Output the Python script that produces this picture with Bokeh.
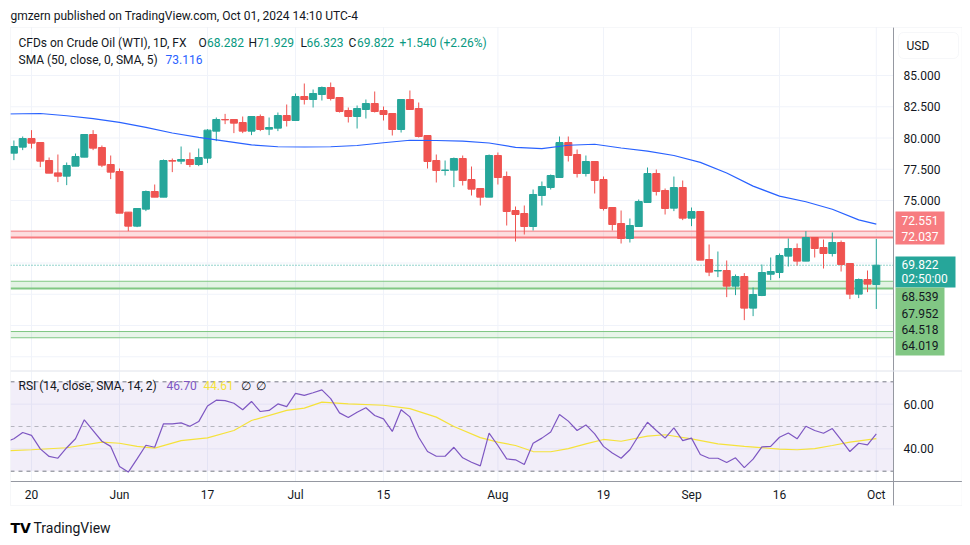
import pandas as pd
from bokeh.plotting import figure
from bokeh.models import ColumnDataSource, BoxAnnotation, Label, Range1d
from bokeh.embed import file_html
from bokeh.resources import INLINE

# ---------------- data ----------------
first_day = "2024-05-16"
last_day = "2024-10-01"

opens = [78.79, 79.27, 79.96, 79.64, 78.20, 77.21, 76.95, 77.75, 78.47, 80.28,
         79.24, 77.88, 77.32, 74.07, 72.95, 74.31, 75.72, 75.27, 78.20, 78.15,
         78.28, 77.88, 78.39, 80.55, 81.48, 81.48, 81.24, 80.55, 81.72, 80.71,
         80.79, 81.80, 81.40, 83.32, 83.08, 83.48, 84.04, 83.24, 82.20, 81.72,
         82.28, 82.76, 82.20, 81.96, 80.68, 83.08, 82.36, 80.20, 78.20, 77.40,
         77.43, 78.36, 76.68, 75.96, 75.27, 78.60, 76.92, 74.20, 73.96, 72.92,
         75.40, 76.04, 76.84, 79.64, 78.68, 77.16, 78.12, 76.68, 74.44, 73.16,
         71.96, 72.92, 74.84, 77.16, 75.80, 74.39, 76.04, 73.59, 74.12, 70.28,
         69.36, 69.40, 68.15, 68.92, 66.39, 67.40, 69.10, 69.24, 70.55, 71.16,
         70.15, 72.04, 71.24, 70.76, 71.64, 69.96, 67.51, 68.68, 68.282]
highs = [79.80, 80.12, 80.63, 79.64, 78.44, 78.68, 78.04, 78.76, 80.28, 80.63,
         79.40, 78.60, 77.56, 74.07, 74.36, 75.80, 76.28, 78.28, 78.36, 79.32,
         78.84, 79.16, 80.71, 81.64, 81.93, 81.48, 81.72, 81.72, 81.88, 81.64,
         82.04, 82.68, 83.56, 84.36, 83.88, 84.12, 84.44, 83.24, 82.44, 82.60,
         83.08, 83.72, 82.52, 81.96, 83.08, 83.80, 82.84, 80.20, 78.68, 78.20,
         78.44, 78.60, 77.72, 75.96, 78.68, 78.84, 77.32, 74.52, 74.60, 75.88,
         76.52, 77.08, 80.12, 80.12, 79.08, 78.60, 78.12, 76.92, 74.44, 74.20,
         73.56, 75.08, 77.64, 77.48, 75.96, 76.92, 76.60, 74.44, 74.12, 71.48,
         70.92, 70.20, 69.08, 69.19, 68.04, 69.88, 70.44, 70.76, 71.96, 71.56,
         72.55, 72.04, 71.88, 72.44, 71.80, 69.96, 68.76, 69.40, 71.929]
lows = [78.23, 79.03, 79.16, 77.67, 77.19, 76.47, 76.23, 77.75, 78.47, 79.03,
        77.67, 76.71, 73.99, 72.55, 72.87, 74.15, 75.27, 75.27, 77.27, 77.91,
        77.67, 77.75, 77.99, 79.75, 81.11, 80.39, 80.39, 80.23, 80.55, 80.23,
        80.55, 80.92, 81.40, 82.68, 82.44, 83.00, 83.00, 82.04, 81.24, 80.76,
        81.56, 82.04, 81.40, 80.20, 80.44, 82.28, 80.04, 77.56, 76.44, 77.00,
        76.07, 76.20, 75.40, 74.60, 75.27, 76.28, 73.00, 71.72, 72.28, 72.60,
        74.60, 75.88, 76.84, 78.12, 76.84, 76.92, 75.56, 74.20, 72.60, 71.56,
        71.64, 72.92, 74.84, 75.40, 73.88, 74.15, 73.43, 72.95, 70.23, 68.95,
        68.87, 67.27, 67.43, 65.43, 65.75, 67.35, 68.63, 68.79, 69.72, 69.80,
        70.15, 70.44, 69.56, 70.52, 69.32, 67.11, 67.19, 67.67, 66.323]
closes = [79.32, 79.96, 79.59, 78.15, 77.19, 76.95, 77.80, 78.52, 80.28, 79.19,
          77.83, 77.27, 73.99, 72.95, 74.36, 75.72, 75.27, 78.20, 78.15, 78.28,
          77.88, 78.44, 80.63, 81.48, 81.45, 81.19, 80.55, 81.72, 80.68, 80.84,
          81.80, 81.40, 83.32, 83.08, 83.56, 84.04, 83.16, 82.12, 81.72, 82.36,
          82.76, 82.12, 81.88, 80.68, 83.08, 82.28, 80.12, 78.12, 77.40, 77.44,
          78.36, 76.60, 75.91, 75.27, 78.60, 76.84, 74.12, 73.88, 72.92, 75.48,
          76.12, 77.00, 79.64, 78.60, 77.16, 78.12, 76.60, 74.36, 73.08, 71.96,
          73.00, 74.92, 77.16, 75.72, 74.36, 76.04, 73.59, 74.12, 70.23, 69.27,
          69.40, 68.15, 68.92, 66.39, 67.48, 69.24, 69.32, 70.60, 71.16, 70.15,
          72.04, 71.16, 70.76, 71.64, 69.88, 67.51, 68.68, 68.31, 69.822]

# indicator lines start one session earlier (partly visible at the left edge)
indicator_start = "2024-05-15"
rsi_values = [43.0,
              44.5, 47.3, 46.0, 40.0, 36.6, 35.8, 40.5, 44.5, 53.0, 48.2,
              43.4, 41.1, 32.1, 29.6, 35.5, 41.6, 40.7, 51.2, 51.2, 51.6,
              50.1, 52.2, 59.2, 61.8, 61.6, 60.4, 57.5, 61.2, 56.7, 57.2,
              60.1, 58.9, 64.8, 63.9, 65.1, 66.4, 62.5, 56.1, 54.0, 56.4,
              58.4, 54.9, 53.4, 47.8, 57.5, 54.3, 45.2, 38.8, 36.7, 36.7,
              40.7, 36.0, 34.0, 32.4, 47.0, 41.5, 35.5, 35.1, 33.0, 42.5,
              44.8, 47.5, 55.4, 52.4, 48.2, 50.7, 46.7, 41.1, 38.1, 35.8,
              39.6, 46.0, 51.9, 48.2, 44.8, 49.4, 43.7, 44.8, 37.5, 35.8,
              35.8, 33.9, 36.0, 31.6, 35.4, 40.9, 41.1, 45.2, 47.1, 44.5,
              50.1, 48.2, 47.0, 49.1, 44.0, 38.8, 42.5, 41.8, 46.70]

rsi_ma_dates = ["2024-05-15", "2024-05-20", "2024-05-24", "2024-05-30", "2024-06-03",
                "2024-06-05", "2024-06-07", "2024-06-12", "2024-06-17", "2024-06-20",
                "2024-06-24", "2024-06-28", "2024-07-02", "2024-07-04", "2024-07-09",
                "2024-07-15", "2024-07-18", "2024-07-23", "2024-07-25", "2024-07-30",
                "2024-08-01", "2024-08-05", "2024-08-07", "2024-08-09", "2024-08-13",
                "2024-08-15", "2024-08-19", "2024-08-21", "2024-08-26", "2024-08-28",
                "2024-09-02", "2024-09-05", "2024-09-10", "2024-09-16", "2024-09-18",
                "2024-09-20", "2024-09-24", "2024-09-26", "2024-10-01"]
rsi_ma_values = [39.1, 39.6, 40.5, 43.0, 42.5, 41.1, 40.3, 43.7, 44.9, 48.2,
                 52.7, 57.2, 58.2, 60.9, 60.1, 59.5, 58.0, 54.2, 50.0, 45.0,
                 43.0, 41.5, 38.8, 38.7, 40.1, 42.2, 44.2, 43.4, 45.7, 46.3,
                 44.5, 42.2, 41.1, 39.9, 39.6, 40.1, 41.5, 43.0, 44.61]

sma50_dates = ["2024-05-15", "2024-05-21", "2024-05-24", "2024-05-29", "2024-06-03",
               "2024-06-06", "2024-06-11", "2024-06-14", "2024-06-19", "2024-06-24",
               "2024-06-27", "2024-07-02", "2024-07-05", "2024-07-10", "2024-07-15",
               "2024-07-18", "2024-07-23", "2024-07-26", "2024-07-31", "2024-08-05",
               "2024-08-08", "2024-08-13", "2024-08-16", "2024-08-21", "2024-08-26",
               "2024-08-29", "2024-09-03", "2024-09-06", "2024-09-11", "2024-09-16",
               "2024-09-19", "2024-09-24", "2024-09-27", "2024-10-01"]
sma50_values = [81.92, 81.96, 81.78, 81.55, 81.25, 80.85, 80.40, 80.05, 79.75, 79.45,
                79.30, 79.28, 79.30, 79.40, 79.62, 79.82, 79.80, 79.75, 79.60, 79.25,
                79.15, 79.42, 79.50, 79.20, 78.95, 78.60, 78.05, 77.20, 76.15, 75.35,
                74.90, 74.30, 73.45, 73.116]

resistance_zone = (72.037, 72.551)
support_zone = (67.952, 68.539)
support_zone2 = (64.019, 64.518)
last_price = 69.822

time_tick_dates = ["2024-05-20", "2024-06-03", "2024-06-17", "2024-07-01", "2024-07-15",
                   "2024-08-01", "2024-08-19", "2024-09-02", "2024-09-16", "2024-10-01"]
time_tick_labels = ["20", "Jun", "17", "Jul", "15", "Aug", "19", "Sep", "16", "Oct"]
price_ticks = [75.0, 77.5, 80.0, 82.5, 85.0]
price_grid = [62.5, 65.0, 67.5, 70.0, 72.5, 75.0, 77.5, 80.0, 82.5, 85.0]
rsi_ticks = [40, 60]
rsi_levels = [70, 50, 30]

# ---------------- style ----------------
FONT = "Roboto"
UP, DOWN = "#26a69a", "#ef5350"
GRID = "#f0f3fa"
AXIS = "#9598a1"
TXT = "#131722"
RED_Z, GREEN_Z = "#f77c80", "#81c784"
RSI_C, RSI_MA_C = "#7e57c2", "#f5e23b"

# session positions (weekday sessions, no gaps)
sessions = pd.bdate_range(indicator_start, last_day)
pos = {d.strftime("%Y-%m-%d"): i - 1 for i, d in enumerate(sessions)}
candle_days = [d.strftime("%Y-%m-%d") for d in pd.bdate_range(first_day, last_day)]
cx = [pos[d] for d in candle_days]
tick_x = [pos[d] for d in time_tick_dates]

# canvas geometry: page pixel -> data (session index, price, RSI)
W, H = 962, 537
def sx(px): return (px - 13.4) / 8.8
def sy(py): return 85.0 - (py - 75.0) / 12.5
def ry(py): return 70.0 - (py - 381.3) / 2.235

XL, XR = sx(10), sx(893)          # left edge of panes, price-scale line

p = figure(width=W, height=H, x_range=Range1d(sx(0), sx(W)), y_range=Range1d(sy(H), sy(0)),
           output_backend="svg", toolbar_location=None, tools="",
           x_axis_location=None, y_axis_location=None, title_location=None,
           min_border=0, outline_line_color=None)
p.extra_y_ranges = {"rsi": Range1d(ry(H), ry(0))}
p.grid.visible = False

def lab(px, py, text, color, size="12px", style="normal", align="left", rng="default",
        y=None, font=FONT):
    yy = y if y is not None else (sy(py) if rng == "default" else ry(py))
    p.add_layout(Label(x=sx(px), y=yy, text=text, text_color=color,
                       text_font=font, text_font_size=size, text_font_style=style,
                       text_align=align, text_baseline="middle", y_range_name=rng))

# ---- grid lines ----
p.segment(x0=tick_x, x1=tick_x, y0=sy(370), y1=sy(27), line_color=GRID, level="underlay")
p.segment(x0=tick_x, x1=tick_x, y0=ry(481), y1=ry(371), line_color=GRID,
          y_range_name="rsi", level="underlay")
p.segment(x0=XL, x1=XR, y0=price_grid, y1=price_grid, line_color=GRID, level="underlay")
p.segment(x0=XL, x1=XR, y0=rsi_ticks, y1=rsi_ticks, line_color=GRID,
          y_range_name="rsi", level="underlay")

# ---- zones ----
for (lo, hi), col, fa, wtop, wbot in [(resistance_zone, RED_Z, 0.25, 1, 2),
                                       (support_zone, GREEN_Z, 0.22, 1, 2),
                                       (support_zone2, GREEN_Z, 0.18, 1, 1)]:
    p.add_layout(BoxAnnotation(left=XL, right=XR, bottom=lo, top=hi, fill_color=col,
                               fill_alpha=fa, line_color=None, level="underlay"))
    p.segment(x0=XL, x1=XR, y0=hi, y1=hi, line_color=col, line_width=wtop, level="underlay")
    p.segment(x0=XL, x1=XR, y0=lo, y1=lo, line_color=col, line_width=wbot, level="underlay")
p.segment(x0=XL, x1=XR, y0=last_price, y1=last_price, line_color=UP, line_width=1,
          line_dash="1 2", level="underlay")

# ---- candles ----
src = ColumnDataSource(dict(
    x=cx, o=opens, h=highs, l=lows, c=closes,
    top=[max(a, b) for a, b in zip(opens, closes)],
    bot=[min(a, b) for a, b in zip(opens, closes)],
    col=[UP if c >= o else DOWN for o, c in zip(opens, closes)]))
p.segment(x0="x", y0="l", x1="x", y1="h", line_color="col", line_width=1, source=src)
p.vbar(x="x", width=0.8, top="top", bottom="bot", fill_color="col",
       line_color="col", line_width=1, source=src)
p.line([pos[d] for d in sma50_dates], sma50_values, line_color="#2962ff", line_width=1.2)

# ---- RSI pane ----
p.add_layout(BoxAnnotation(left=XL, right=XR, bottom=30, top=70, fill_color=RSI_C,
                           fill_alpha=0.1, line_color=None, level="underlay",
                           y_range_name="rsi"))
for lvl, alpha in zip(rsi_levels, [1.0, 0.5, 1.0]):
    p.segment(x0=XL, x1=XR, y0=lvl, y1=lvl, line_color="#787b86", line_alpha=alpha,
              line_dash="4 4", line_width=1, y_range_name="rsi")
rsi_x = [pos[d.strftime("%Y-%m-%d")] for d in sessions]
p.line([pos[d] for d in rsi_ma_dates], rsi_ma_values, line_color=RSI_MA_C,
       line_width=1.2, y_range_name="rsi")
p.line(rsi_x, rsi_values, line_color=RSI_C, line_width=1.2, y_range_name="rsi")

# mask left of the panes (indicator lines start one session early)
p.add_layout(BoxAnnotation(left=sx(-20), right=XL, bottom=sy(H + 20), top=sy(-20),
                           fill_color="white", fill_alpha=1, line_color=None))

# ---- scales, separators and chart border ----
p.segment(x0=XR, x1=XR, y0=sy(505), y1=sy(27), line_color=AXIS, line_width=1)
p.segment(x0=XL, x1=sx(962), y0=sy(481), y1=sy(481), line_color=AXIS, line_width=1)
p.segment(x0=XL, x1=sx(962), y0=sy(370.5), y1=sy(370.5), line_color="#e0e3eb", line_width=1)
p.add_layout(BoxAnnotation(left=XL, right=sx(961.5), top=sy(27), bottom=sy(505),
                           fill_color=None, line_color="#e0e3eb", line_width=1))

for t in price_ticks:
    lab(903, None, "%.3f" % t, TXT, y=t)
for t in rsi_ticks:
    lab(903, None, "%.2f" % t, TXT, rng="rsi", y=t)
for t, s in zip(tick_x, time_tick_labels):
    p.add_layout(Label(x=t, y=sy(494), text=s, text_color=TXT, text_font=FONT,
                       text_font_size="12px", text_align="center", text_baseline="middle"))

# currency box and price labels on the scale
p.add_layout(BoxAnnotation(left=sx(898), right=sx(958), top=sy(32), bottom=sy(58),
                           fill_color="white", fill_alpha=1, line_color="#e0e3eb",
                           line_width=1, border_radius=5))
lab(906, 45, "USD", TXT)
for top_px, bot_px, right_px, col in [(211, 244, 944, RED_Z), (256, 287, 955, UP),
                                      (287, 355, 944, GREEN_Z)]:
    p.add_layout(BoxAnnotation(left=sx(895), right=sx(right_px), top=sy(top_px),
                               bottom=sy(bot_px), fill_color=col, fill_alpha=1,
                               line_color=None))
for py, text, col in [(220, "72.551", "white"), (236, "72.037", "white"),
                      (263.5, "69.822", "white"), (278.5, "02:50:00", "white"),
                      (295.7, "68.539", TXT), (312.5, "67.952", TXT),
                      (329.2, "64.518", TXT), (345, "64.019", TXT)]:
    lab(901, py, text, col)

# ---- legends, header, footer ----
lab(10, 15, "gmzern published on TradingView.com, Oct 01, 2024 14:10 UTC-4", TXT, "12px")
lab(18, 42, "CFDs on Crude Oil (WTI), 1D, FX", TXT, "12px")
for lx, letter, vx, val in [(198, "O", 206.5, "68.282"), (248, "H", 256.5, "71.929"),
                            (300, "L", 306, "66.323"), (348, "C", 356.5, "69.822")]:
    lab(lx, 42, letter, TXT, "12px")
    lab(vx, 42, val, "#089981", "12px")
lab(399, 42, "+1.540 (+2.26%)", "#089981", "12px")
lab(18, 59, "SMA (50, close, 0, SMA, 5)", TXT, "12px")
lab(165, 59, "73.116", "#2962ff", "12px")

lab(18, 385, "RSI (14, close, SMA, 14, 2)", TXT, "12px")
lab(166, 385, "46.70", RSI_C, "12px")
lab(203, 385, "44.61", RSI_MA_C, "12px")
lab(240, 385, "\u2205", TXT, "12px")
lab(255, 385, "\u2205", TXT, "12px")

lab(10, 527, "TV", "#000000", "14px", "bold", font="DejaVu Sans")
lab(33, 527, "TradingView", TXT, "14px")

open("out.html", "w").write(file_html(p, INLINE))
